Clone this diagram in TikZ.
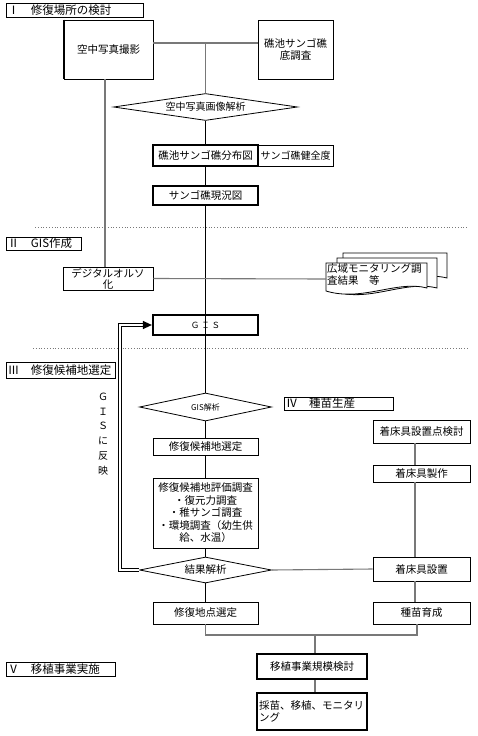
\documentclass[tikz,border=0pt]{standalone}
\usepackage{fontspec}
\setmainfont{Noto Sans CJK JP}
\usetikzlibrary{shapes.geometric,arrows.meta,calc}
\definecolor{lg}{RGB}{120,120,120}
\newcommand\fsA{\fontsize{10.5}{12}\selectfont}
\newcommand\fsB{\fontsize{10.5}{11}\selectfont}
\newcommand\fsC{\fontsize{10.5}{12.5}\selectfont}
\newcommand\fsL{\fontsize{11.5}{12}\selectfont}
\tikzset{
  bx/.style={draw, line width=0.8pt, inner sep=0pt, align=center, font=\fsA},
  thk/.style={line width=2.2pt},
  lbl/.style={draw, line width=0.8pt, inner xsep=2pt, inner ysep=0pt, align=left, font=\fsL},
  dia/.style={diamond, draw, line width=0.8pt, inner sep=0pt, aspect=6, font=\fsA},
  gl/.style={draw=lg, line width=1.1pt},
  bl/.style={draw=black, line width=0.8pt},
  sep/.style={draw=lg, dotted, line width=0.8pt},
  doc/.style={fill=white, draw=black, line width=0.8pt}
}
\begin{document}
\begin{tikzpicture}[x=1pt,y=-1pt]
\useasboundingbox (0,0) rectangle (477,736);

% separators
\draw[sep] (35,227) -- (468,227);
\draw[sep] (33,348) -- (468,348);

% section labels
\node[lbl, text width=133pt, minimum height=14pt] (l1) at (74.5,10) {Ⅰ　修復場所の検討};
\node[lbl, text width=71pt, minimum height=13pt] (l2) at (43.5,243.5) {Ⅱ　GIS作成};
\node[lbl, text width=105pt, minimum height=16pt] (l3) at (60.5,370) {Ⅲ　修復候補地選定};
\node[lbl, text width=105pt, minimum height=13pt] (l4) at (338.5,403.5) {Ⅳ　種苗生産};
\node[lbl, text width=105pt, minimum height=14pt] (l5) at (60.5,669) {Ⅴ　移植事業実施};

% part I
\node[bx, minimum width=89pt, minimum height=59pt] (aerial) at (108.5,49.5) {空中写真撮影};
\draw[line width=2pt] (aerial.north west) -- (aerial.south west);
\node[bx, minimum width=75pt, minimum height=59pt] (survey) at (295.5,49.5) {礁池サンゴ礁\\底調査};
\node[dia, minimum width=184pt, minimum height=27pt, font=\fontsize{10}{12}\selectfont] (d1) at (205.5,107) {空中写真画像解析};
\node[bx, minimum width=75pt, minimum height=21pt, font=\fontsize{10}{12}\selectfont] (health) at (295.5,155.5) {サンゴ礁健全度};
\node[bx, thk, minimum width=105pt, minimum height=21pt] (map) at (205.5,155.5) {礁池サンゴ礁分布図};
\node[bx, thk, minimum width=105pt, minimum height=19pt] (present) at (205.5,195.5) {サンゴ礁現況図};

% part II
\node[bx, minimum width=90pt, minimum height=23pt, font=\fsB] (ortho) at (108,278.5) {デジタルオルソ\\化};
\filldraw[doc] (343,253) -- (447,253) -- (447,278) .. controls (415,270) and (380,292) .. (343,282) -- cycle;
\filldraw[doc] (337,258) -- (437,258) -- (437,288) .. controls (405,280) and (370,302) .. (337,292) -- cycle;
\filldraw[doc] (326,263) -- (427,263) -- (427,288) .. controls (397,280) and (362,302) .. (326,291) -- cycle;
\node[anchor=north west, inner sep=0pt, align=left, font=\fsA] (doctext) at (327,263) {広域モニタリング調\\査結果　等};
\coordinate (docL) at (326,279);
\node[bx, thk, minimum width=105pt, minimum height=20pt, font=\fontsize{8.5}{10}\selectfont] (gis) at (205.5,325) {Ｇ Ｉ Ｓ};

% part III
\node[dia, minimum width=132pt, minimum height=28pt, font=\fontsize{8}{10}\selectfont] (d2) at (205.5,407) {GIS解析};
\node[bx, minimum width=105pt, minimum height=17pt] (cand) at (205.5,446.5) {修復候補地選定};
\node[bx, minimum width=105pt, minimum height=70pt, font=\fsC] (eval) at (205.5,513) {修復候補地評価調査\\・復元力調査\\・稚サンゴ調査\\・環境調査（幼生供\\給、水温）};
\node[dia, minimum width=132pt, minimum height=26pt] (d3) at (205.5,570) {結果解析};
\node[bx, minimum width=105pt, minimum height=22pt] (site) at (205.5,613) {修復地点選定};
\node[inner sep=0pt, align=center, font=\fontsize{10}{14.7}\selectfont] (vt) at (103,434) {Ｇ\\Ｉ\\Ｓ\\に\\反\\映};

% part IV
\node[bx, minimum width=97pt, minimum height=23pt] (setpt) at (421.5,431.5) {着床具設置点検討};
\node[bx, minimum width=97pt, minimum height=17pt] (make) at (421.5,473.5) {着床具製作};
\node[bx, minimum width=97pt, minimum height=24pt] (inst) at (421.5,569) {着床具設置};
\node[bx, minimum width=97pt, minimum height=22pt] (grow) at (421.5,613) {種苗育成};

% part V
\node[bx, thk, minimum width=110pt, minimum height=25pt] (scale) at (312,666.5) {移植事業規模検討};
\node[bx, thk, minimum width=110pt, minimum height=37pt, text width=106pt, align=left] (final) at (312,711.5) {採苗、移植、モニタリ\\ング};

% connectors
\coordinate (j1) at (205.5,43);
\draw[gl] (aerial.east |- j1) -- (survey.west |- j1);
\draw[gl] (j1) -- (d1.north);
\draw[bl] (d1.south) -- (map.north);
\draw[bl] (map.south) -- (present.north);
\draw[bl] (present.south) -- (d2.north);
\coordinate (cx) at (105,0);
\draw[gl] (aerial.south -| cx) -- (ortho.north -| cx);
\draw[gl] (ortho.east) -- (docL);
\draw[bl] (d2.south) -- (cand.north);
\draw[bl] (cand.south) -- (eval.north);
\draw[bl] (eval.south) -- (d3.north);
\draw[bl] (d3.south) -- (site.north);
\draw[gl] (d3.east) -- (inst.west);
\coordinate (rc) at (415,0);
\draw[gl] (setpt.south -| rc) -- (make.north -| rc);
\draw[gl] (make.south -| rc) -- (inst.north -| rc);
\draw[gl] (inst.south -| rc) -- (grow.north -| rc);
\coordinate (bj) at (315,635);
\coordinate (rc2) at (417,0);
\draw[gl] (site.south) |- (bj) -| (grow.south -| rc2);
\draw[gl] (bj) -- (scale.north -| bj);
\draw[gl] (scale.south -| bj) -- (final.north -| bj);

% feedback double arrow
\coordinate (fb1) at (120,570);
\coordinate (fb2) at (120,325);
\coordinate (fb3) at (143,325);
\draw[double, double distance=1.3pt, line width=1.2pt] (d3.west) -- (fb1) -- (fb2) -- (fb3);
\draw[line width=1.2pt, -{Triangle[length=9pt,width=8pt]}] (fb3) -- (gis.west);
\end{tikzpicture}
\end{document}
